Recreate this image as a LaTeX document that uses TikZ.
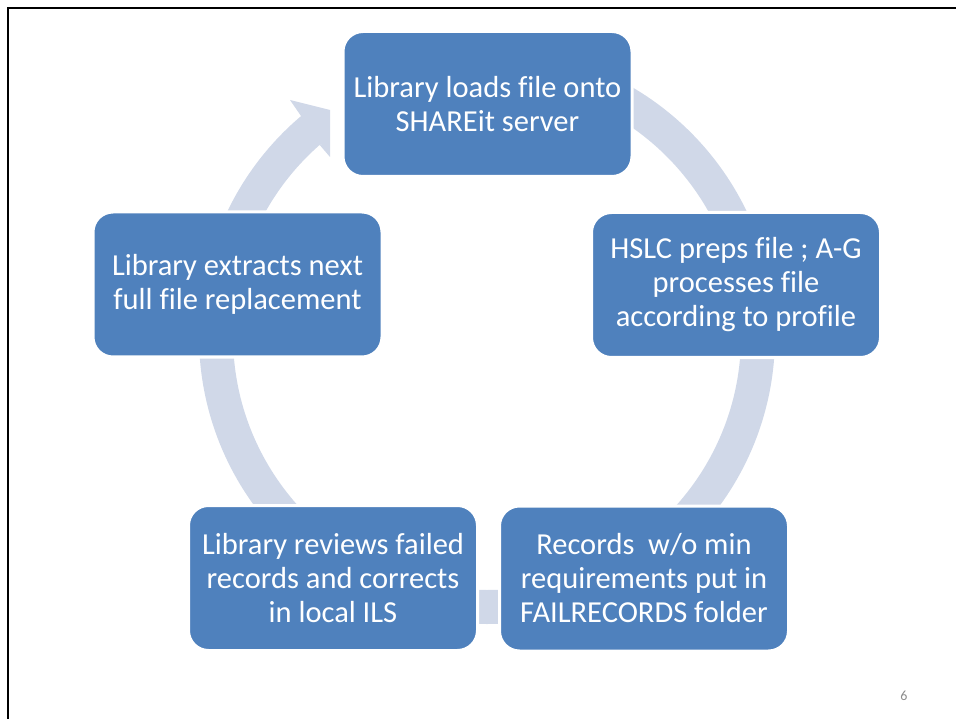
\documentclass[tikz,border=0pt]{standalone}
\usepackage{fontspec}
\setmainfont{Carlito}[Ligatures=NoCommon]
\definecolor{boxblue}{HTML}{4F81BD}
\definecolor{ringblue}{HTML}{D0D8E8}
\definecolor{numgray}{HTML}{8C8C8C}
\begin{document}
\begin{tikzpicture}[x=1pt,y=-1pt,
  stepbox/.style={draw=white,line width=3pt,fill=boxblue,rounded corners=20pt,
    minimum width=289pt,minimum height=145pt,inner sep=0pt,align=center,
    text=white,font=\fontsize{30.5}{34}\selectfont},
  ring/.style={draw=ringblue,line width=34pt},
  frameline/.style={draw=black,line width=2.5pt}]
\useasboundingbox (0,0) rectangle (956,719);
\coordinate (ctr) at (487,336);
% ring
\draw[ring] (ctr) ++(-90:271) arc[start angle=-90,end angle=230.5,radius=271];
% arrow head
\fill[ringblue] (301,116) -- (290,100) -- (330,110) -- (330,157) -- (318,143) -- (322,145) -- cycle;
% boxes
\node[stepbox] (load) at (487.5,104) {Library loads file onto\\SHAREit server};
\node[stepbox] (prep) at (736,285) {HSLC preps file ; A-G\\processes file\\according to profile};
\node[stepbox] (fail) at (644,578.5) {Records\ \ w/o min\\requirements put in\\FAILRECORDS folder};
\node[stepbox] (review) at (333,578) {Library reviews failed\\records and corrects\\in local ILS};
\node[stepbox] (extract) at (237.5,284.5) {Library extracts next\\full file replacement};
% frame
\draw[frameline] (8,725) -- (8,8) -- (962,8);
\node[text=numgray,font=\fontsize{14}{16}\selectfont] (num) at (904,695.5) {6};
\end{tikzpicture}
\end{document}
